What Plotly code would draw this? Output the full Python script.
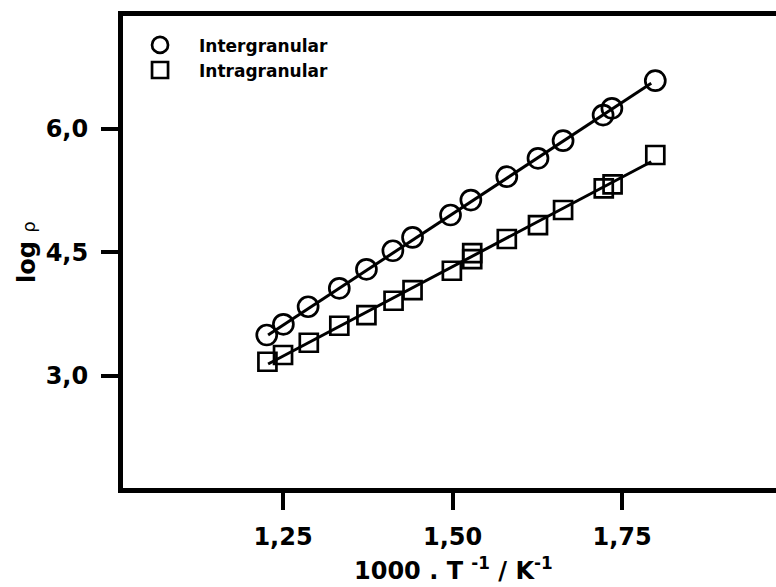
import plotly.graph_objects as go

# Data
inter_x = [1.226, 1.2505, 1.287, 1.333, 1.373, 1.412, 1.441, 1.497, 1.527, 1.580, 1.626, 1.663, 1.722, 1.735, 1.799]
inter_y = [3.494, 3.624, 3.838, 4.062, 4.293, 4.519, 4.682, 4.954, 5.136, 5.420, 5.644, 5.858, 6.170, 6.252, 6.588]

intra_x = [1.227, 1.250, 1.288, 1.333, 1.373, 1.413, 1.441, 1.499, 1.529, 1.529, 1.580, 1.626, 1.663, 1.723, 1.736, 1.799]
intra_y = [3.169, 3.251, 3.400, 3.607, 3.737, 3.911, 4.041, 4.276, 4.491, 4.418, 4.662, 4.832, 5.015, 5.279, 5.327, 5.684]

fit_x = [1.228, 1.793]
fit_inter_y = [3.494, 6.556]
fit_intra_y = [3.141, 5.602]

x_tickvals = [1.25, 1.50, 1.75]
x_ticktext = ["1,25", "1,50", "1,75"]
y_tickvals = [3.0, 4.5, 6.0]
y_ticktext = ["3,0", "4,5", "6,0"]

x_title = "1000 . T <sup>-1</sup> / K<sup>-1</sup>"
y_title = "log <span style='font-weight:normal;font-size:18px'>ρ</span>"

FONT = "DejaVu Sans"

fig = go.Figure()
fig.add_trace(go.Scatter(x=inter_x, y=inter_y, mode="markers", name="Intergranular",
                         marker=dict(symbol="circle-open", size=20, color="black",
                                     line=dict(width=2.7, color="black"))))
fig.add_trace(go.Scatter(x=intra_x, y=intra_y, mode="markers", name="Intragranular",
                         marker=dict(symbol="square-open", size=18, color="black",
                                     line=dict(width=2.7, color="black"))))
fig.add_trace(go.Scatter(x=fit_x, y=fit_inter_y, mode="lines", showlegend=False,
                         line=dict(color="black", width=3)))
fig.add_trace(go.Scatter(x=fit_x, y=fit_intra_y, mode="lines", showlegend=False,
                         line=dict(color="black", width=3)))

fig.update_layout(
    width=776, height=587,
    margin=dict(l=123, r=0, t=16, b=99),
    paper_bgcolor="white", plot_bgcolor="white",
    font=dict(family=FONT, color="black"),
    legend=dict(x=-0.003, y=0.976, xanchor="left", yanchor="top",
                bgcolor="rgba(0,0,0,0)", font=dict(family=FONT, size=17, color="black", weight="bold"),
                tracegroupgap=0, itemsizing="trace", itemwidth=68),
    xaxis=dict(range=[1.014, 1.977], showgrid=False, zeroline=False, automargin=False,
               showline=True, linewidth=5, linecolor="black", mirror=True,
               ticks="outside", ticklen=17, tickwidth=4, tickcolor="black",
               tickvals=x_tickvals, ticktext=x_ticktext, ticklabelstandoff=6,
               tickfont=dict(family=FONT, size=24, color="black", weight="bold")),
    yaxis=dict(range=[1.633, 7.375], showgrid=False, zeroline=False, automargin=False,
               showline=True, linewidth=5, linecolor="black", mirror=False,
               ticks="outside", ticklen=17, tickwidth=4, tickcolor="black",
               tickvals=y_tickvals, ticktext=y_ticktext, ticklabelstandoff=8,
               tickfont=dict(family=FONT, size=24, color="black", weight="bold")),
    annotations=[
        dict(text=x_title, xref="paper", yref="paper", x=0.5054, y=-0.171,
             xanchor="center", yanchor="middle", showarrow=False,
             font=dict(family=FONT, size=24, color="black", weight="bold")),
        dict(text=y_title, xref="paper", yref="paper", x=-0.147, y=0.5,
             xanchor="center", yanchor="middle", showarrow=False, textangle=-90,
             font=dict(family=FONT, size=24, color="black", weight="bold")),
    ],
)

fig.write_html("out.html", config={"displayModeBar": False},
               post_script="document.body.style.margin='0';document.body.style.overflow='hidden';")
